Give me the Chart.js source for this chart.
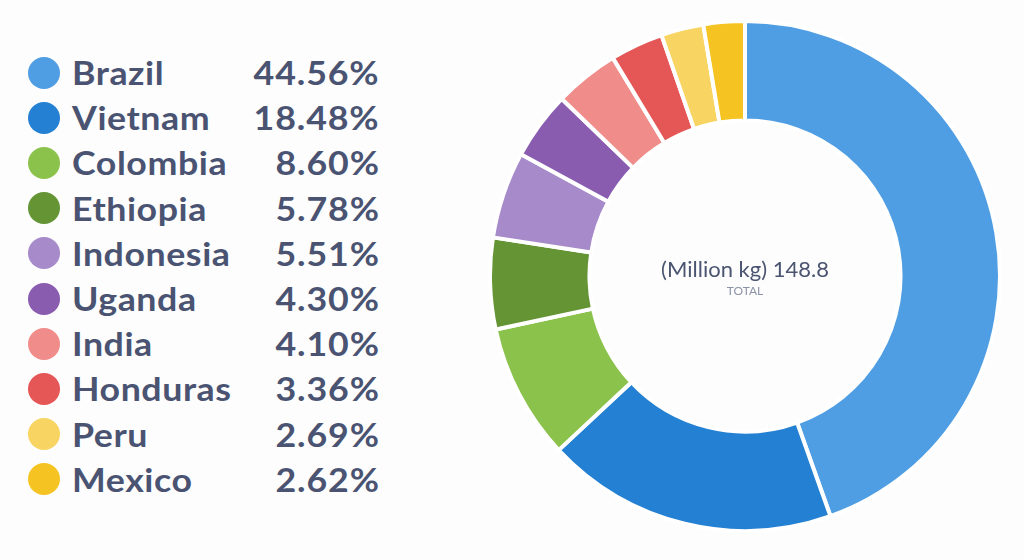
<!DOCTYPE html>
<html>
<head>
<meta charset="utf-8">
<script src="https://cdn.jsdelivr.net/npm/chart.js@4"></script>
<style>
    html, body { margin: 0; padding: 0; background: #fdfdfd; }
    body { width: 1024px; height: 560px; position: relative; overflow: hidden; font-family: Lato, sans-serif; }
    #legend { position: absolute; left: 0; top: 0; }
    .row { position: absolute; left: 28px; width: 352px; height: 45px; display: flex; align-items: center; }
    .dot { width: 32px; height: 32px; border-radius: 50%; flex: none; }
    .name { margin-left: 12px; font-size: 32.5px; font-weight: bold; color: #4a5472; flex: 1; letter-spacing: 0.5px;
            transform: scaleX(1.1); transform-origin: left center; }
    .pct { font-size: 32.5px; font-weight: bold; color: #4a5472; text-align: right; letter-spacing: 0.8px;
           transform: scaleX(1.1); transform-origin: right center; }
    #chartBox { position: absolute; left: 488px; top: 19px; width: 514px; height: 514px; }
</style>
</head>
<body>
<div id="legend"></div>
<div id="chartBox"><canvas id="coffee"></canvas></div>
<script>
const countries = ['Brazil', 'Vietnam', 'Colombia', 'Ethiopia', 'Indonesia', 'Uganda', 'India', 'Honduras', 'Peru', 'Mexico'];
const shares = [44.56, 18.48, 8.60, 5.78, 5.51, 4.30, 4.10, 3.36, 2.69, 2.62];
const colors = ['#4f9ee3', '#2480d2', '#8bc24c', '#659434', '#a78ac9', '#8a5cb0', '#f08c8a', '#e55656', '#f8d462', '#f5c423'];
const totalLabel = '(Million kg) 148.8';
const totalCaption = 'TOTAL';

// legend on the left, one row per country
const legend = document.getElementById('legend');
countries.forEach((c, i) => {
    const row = document.createElement('div');
    row.className = 'row';
    row.style.top = (50 + i * 45.2) + 'px';
    row.innerHTML = `<span class="dot" style="background:${colors[i]}"></span>` +
        `<span class="name">${c}</span><span class="pct">${shares[i].toFixed(2)}%</span>`;
    legend.appendChild(row);
});

const centerText = {
    id: 'centerText',
    afterDraw(chart) {
        const { ctx } = chart;
        const meta = chart.getDatasetMeta(0).data[0];
        const x = meta.x, y = meta.y;
        ctx.save();
        ctx.textAlign = 'center';
        ctx.textBaseline = 'alphabetic';
        ctx.fillStyle = '#4b5571';
        ctx.font = '22px Lato';
        ctx.fillText(totalLabel, x, y + 1);
        ctx.fillStyle = '#8b93a7';
        ctx.font = '12px Lato';
        ctx.fillText(totalCaption, x, y + 19);
        ctx.restore();
    }
};

new Chart(document.getElementById('coffee'), {
    type: 'doughnut',
    data: {
        labels: countries,
        datasets: [{
            data: shares,
            backgroundColor: colors,
            borderColor: '#ffffff',
            borderWidth: 4
        }]
    },
    options: {
        responsive: true,
        maintainAspectRatio: false,
        animation: false,
        cutout: '61%',
        plugins: {
            legend: { display: false },
            tooltip: { enabled: false }
        }
    },
    plugins: [centerText]
});
</script>
</body>
</html>
